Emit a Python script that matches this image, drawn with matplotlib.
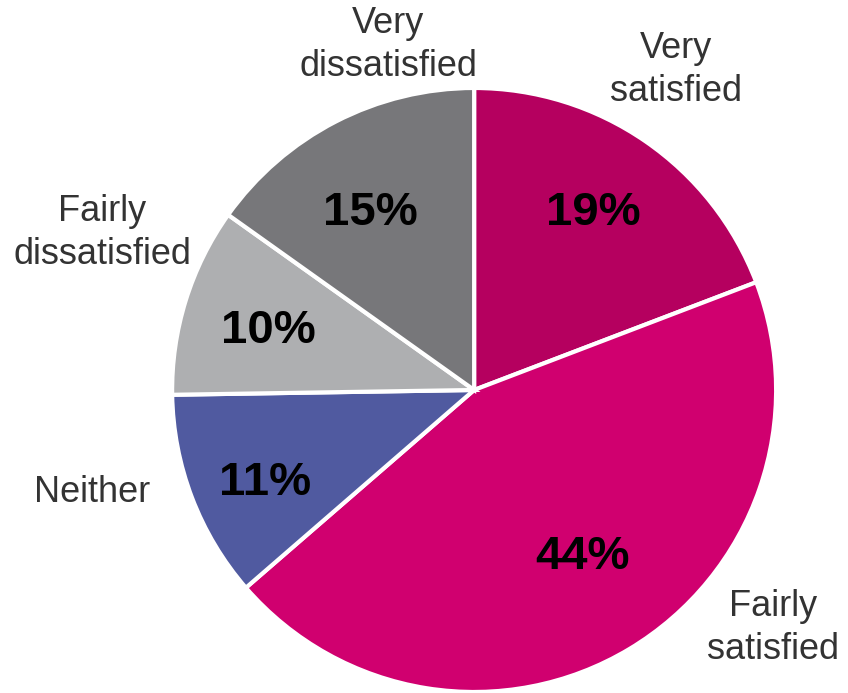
import matplotlib
matplotlib.use("Agg")
import matplotlib.pyplot as plt

plt.rcParams["font.family"] = ["Liberation Sans", "DejaVu Sans"]

# Survey results, clockwise from 12 o'clock
categories = ["Very\nsatisfied", "Fairly\nsatisfied", "Neither",
              "Fairly\ndissatisfied", "Very\ndissatisfied"]
shares = [19, 44, 11, 10, 15]
colors = ["#B5005F", "#D0006F", "#505AA0", "#AEAFB1", "#77777A"]

# label placement in pie-radius units
name_pos = [(0.669, 1.060), (0.990, -0.788), (-1.265, -0.341),
            (-1.232, 0.520), (-0.285, 1.142)]
pct_pos = [(0.394, 0.586), (0.358, -0.553), (-0.692, -0.308),
           (-0.682, 0.195), (-0.344, 0.586)]

fig = plt.figure(figsize=(8.48, 6.93), dpi=100)
ax = fig.add_axes([0, 0, 1, 1])
ax.pie(shares, colors=colors, startangle=90, counterclock=False,
       radius=1.0, wedgeprops=dict(edgecolor="white", linewidth=3))

for name, (x, y) in zip(categories, name_pos):
    ax.text(x, y, name, ha="center", va="center", fontsize=26,
            color="#333333", linespacing=1.3)
for v, (x, y) in zip(shares, pct_pos):
    ax.text(x, y, f"{v}%", ha="center", va="center", fontsize=34,
            fontweight="bold", color="#000000")

ax.set_xlim(-1.570, 1.238)
ax.set_ylim(-1.003, 1.291)
ax.set_aspect("equal")
ax.axis("off")

fig.savefig("out.png", dpi=100)
